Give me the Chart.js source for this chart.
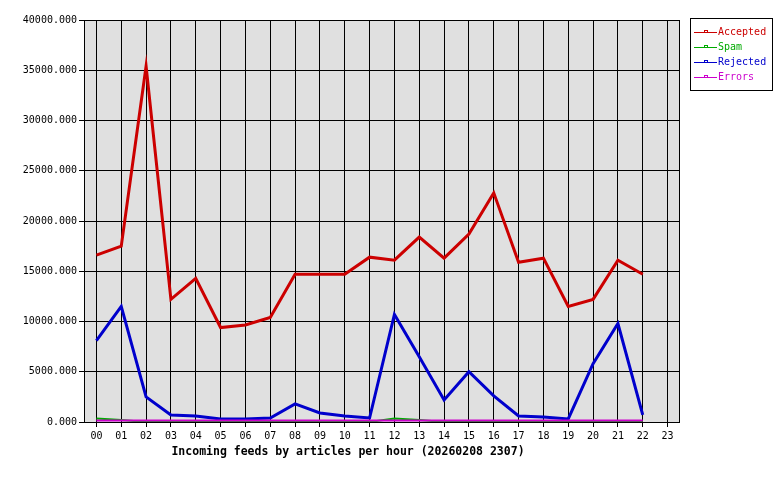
<!DOCTYPE html>
<html>
<head>
<meta charset="utf-8">
<script src="https://cdn.jsdelivr.net/npm/chart.js@4/dist/chart.umd.min.js"></script>
<style>
  html, body { margin: 0; padding: 0; background: #fff; }
  #wrap { width: 780px; height: 480px; }
</style>
</head>
<body>
<div id="wrap"><canvas id="chart" width="780" height="480"></canvas></div>
<script>
// hours on the x axis
const hours = ['00','01','02','03','04','05','06','07','08','09','10','11',
               '12','13','14','15','16','17','18','19','20','21','22','23'];

// articles per hour
const accepted = [16600, 17500, 35400, 12200, 14300, 9400, 9650, 10400, 14700, 14700, 14700, 16400,
                  16100, 18400, 16300, 18700, 22800, 15900, 16300, 11500, 12200, 16100, 14700];
const spam     = [350, 200, 0, 0, 0, 0, 0, 0, 0, 0, 0, 0,
                  350, 200, 0, 0, 0, 0, 0, 0, 0, 0, 0];
const rejected = [8100, 11500, 2500, 700, 600, 300, 300, 400, 1800, 900, 600, 400,
                  10700, 6500, 2200, 5000, 2600, 600, 500, 300, 5800, 9800, 700];
const errors   = [150, 150, 150, 150, 150, 150, 150, 150, 150, 150, 150, 150,
                  150, 150, 150, 150, 150, 150, 150, 150, 150, 150, 150];

const seriesNames = ['Accepted', 'Spam', 'Rejected', 'Errors'];
const seriesColors = ['#cc0000', '#00aa00', '#0000cc', '#cc00cc'];
const xTitle = 'Incoming feeds by articles per hour (20260208 2307)';

const mono = '"DejaVu Sans Mono", monospace';

// grey plot area with a black frame
const plotFrame = {
  id: 'plotFrame',
  beforeDraw(chart) {
    const { ctx, chartArea: a } = chart;
    ctx.save();
    ctx.fillStyle = '#e0e0e0';
    ctx.fillRect(a.left, a.top, a.right - a.left, a.bottom - a.top);
    ctx.restore();
  },
  afterDraw(chart) {
    const { ctx, chartArea: a } = chart;
    ctx.save();
    ctx.strokeStyle = '#000';
    ctx.lineWidth = 1;
    ctx.strokeRect(Math.round(a.left) + 0.5, Math.round(a.top) + 0.5,
                   Math.round(a.right - a.left) - 1, Math.round(a.bottom - a.top));

    // axis caption
    ctx.fillStyle = '#000';
    ctx.font = 'bold 11.5px ' + mono;
    ctx.textAlign = 'center';
    ctx.textBaseline = 'middle';
    ctx.fillText(xTitle, 348, 452);

    // legend box
    ctx.strokeRect(690.5, 18.5, 82, 72);
    ctx.font = '10px ' + mono;
    ctx.textAlign = 'left';
    chart.data.datasets.forEach((ds, i) => {
      const y = 32.5 + i * 15;
      ctx.strokeStyle = ds.borderColor;
      ctx.beginPath();
      ctx.moveTo(694, y);
      ctx.lineTo(717, y);
      ctx.stroke();
      ctx.strokeRect(704.5, y - 2, 3, 2);
      ctx.fillStyle = ds.borderColor;
      ctx.fillText(ds.label, 718, y);
    });
    ctx.restore();
  }
};

const drawOrder = [1, 3, 2, 0]; // errors on top, spam at the back
const datasets = [accepted, spam, rejected, errors].map((vals, i) => ({
  label: seriesNames[i],
  data: vals,
  borderColor: seriesColors[i],
  backgroundColor: seriesColors[i],
  borderWidth: (i === 0 || i === 2) ? 3 : 2,
  pointRadius: 0,
  tension: 0,
  fill: false,
  order: drawOrder[i]
}));

new Chart(document.getElementById('chart'), {
  type: 'line',
  data: { labels: hours, datasets },
  options: {
    responsive: false,
    animation: false,
    events: [],
    layout: { padding: { top: 20, right: 100, left: 0, bottom: 0 } },
    plugins: { legend: { display: false }, tooltip: { enabled: false } },
    scales: {
      x: {
        offset: true,
        grid: { color: '#000', lineWidth: 1, tickLength: 5, offset: false },
        border: { display: false },
        ticks: { color: '#000', font: { family: mono, size: 10 }, padding: 3,
                 autoSkip: false, maxRotation: 0 },
        afterFit(scale) { scale.height = 58; }
      },
      y: {
        min: 0,
        max: 40000,
        grid: { color: '#000', lineWidth: 1, tickLength: 5 },
        border: { display: false },
        ticks: { stepSize: 5000, color: '#000', font: { family: mono, size: 10 }, padding: 2,
                 callback: v => v.toFixed(3) },
        afterFit(scale) { scale.width = 84; }
      }
    }
  },
  plugins: [plotFrame]
});
</script>
</body>
</html>
